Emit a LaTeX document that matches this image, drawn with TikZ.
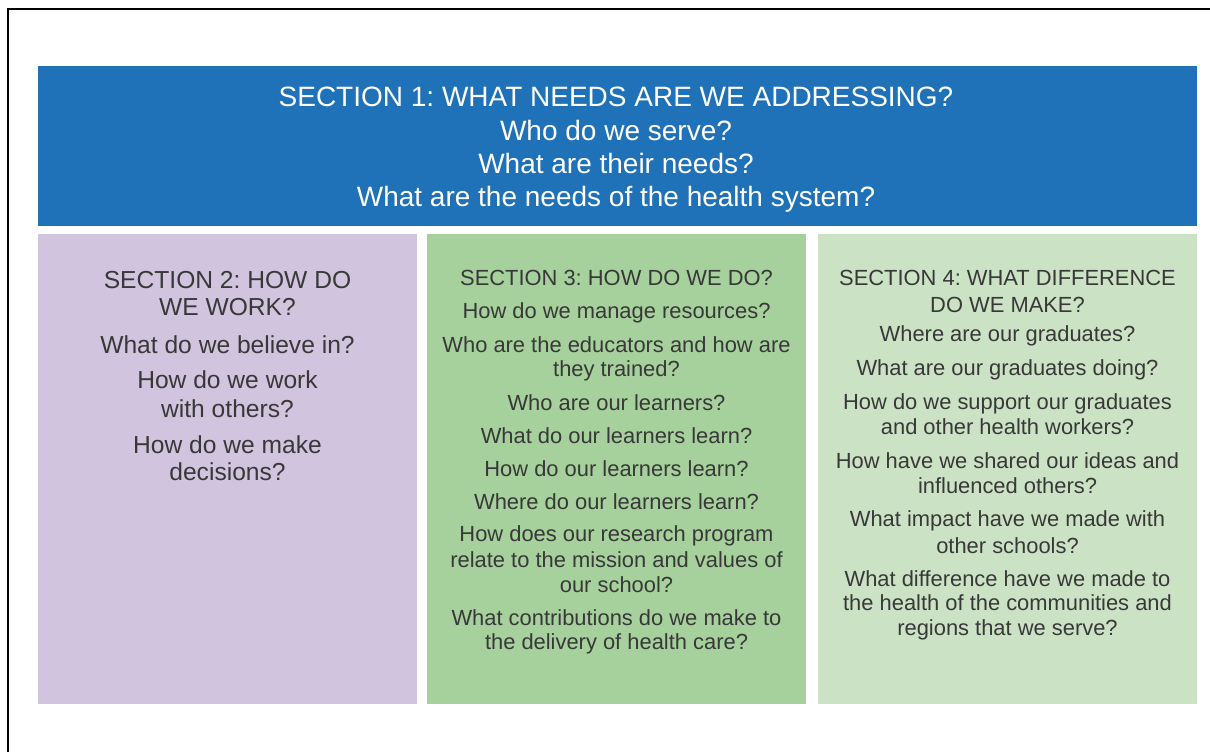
\documentclass[tikz,border=0pt]{standalone}
\usepackage{fontspec}
\setmainfont{Liberation Sans}
\frenchspacing
\definecolor{hdrblue}{HTML}{1F71B8}
\definecolor{boxpurple}{HTML}{D1C4DE}
\definecolor{boxgreen}{HTML}{A6D09C}
\definecolor{boxlight}{HTML}{CCE2C5}
\definecolor{txtgrey}{HTML}{383838}
\tikzset{
  frameline/.style={line width=2.5pt, black},
  hdrtext/.style={anchor=base, inner sep=0pt, text=white, font=\fontsize{28}{33}\selectfont},
  purtext/.style={anchor=base, inner sep=0pt, text=txtgrey, font=\fontsize{24.6}{29}\selectfont},
  coltext/.style={anchor=base, inner sep=0pt, text=txtgrey, font=\fontsize{21.9}{25}\selectfont}
}
\begin{document}
\begin{tikzpicture}[x=1pt,y=-1pt]
\useasboundingbox (0,0) rectangle (1210,752);
\fill[white] (0,0) rectangle (1210,752);
% frame
\draw[frameline] (8,752) -- (8,9) -- (1210,9);
% boxes
\fill[hdrblue] (38,66) rectangle (1197,226);
\fill[boxpurple] (38,234) rectangle (417,704);
\fill[boxgreen] (427,234) rectangle (806,704);
\fill[boxlight] (818,234) rectangle (1197,704);
% section 1
\foreach \yy/\tt [count=\i] in {
  106.7/{SECTION 1: WHAT NEEDS ARE WE ADDRESSING?},
  140/{Who do we serve?},
  173.3/{What are their needs?},
  206.7/{What are the needs of the health system?}}
  \node[hdrtext] (s1-\i) at (616,\yy) {\tt};
% section 2
\foreach \yy/\tt [count=\i] in {
  288/{SECTION 2: HOW DO},
  315/{WE WORK?},
  353/{What do we believe in?},
  388/{How do we work},
  417/{with others?},
  453/{How do we make},
  480/{decisions?}}
  \node[purtext] (s2-\i) at (227.5,\yy) {\tt};
% section 3
\foreach \yy/\tt [count=\i] in {
  285/{SECTION 3: HOW DO WE DO?},
  318/{How do we manage resources?},
  352/{Who are the educators and how are},
  376/{they trained?},
  410/{Who are our learners?},
  443/{What do our learners learn?},
  476/{How do our learners learn?},
  509/{Where do our learners learn?},
  541/{How does our research program},
  567/{relate to the mission and values of},
  592/{our school?},
  625/{What contributions do we make to},
  649/{the delivery of health care?}}
  \node[coltext] (s3-\i) at (616.5,\yy) {\tt};
% section 4
\foreach \yy/\tt [count=\i] in {
  285/{SECTION 4: WHAT DIFFERENCE},
  312/{DO WE MAKE?},
  341/{Where are our graduates?},
  375/{What are our graduates doing?},
  409/{How do we support our graduates},
  434/{and other health workers?},
  468/{How have we shared our ideas and},
  493/{influenced others?},
  526/{What impact have we made with},
  553/{other schools?},
  586/{What difference have we made to},
  610/{the health of the communities and},
  635/{regions that we serve?}}
  \node[coltext] (s4-\i) at (1007.5,\yy) {\tt};
\end{tikzpicture}
\end{document}
